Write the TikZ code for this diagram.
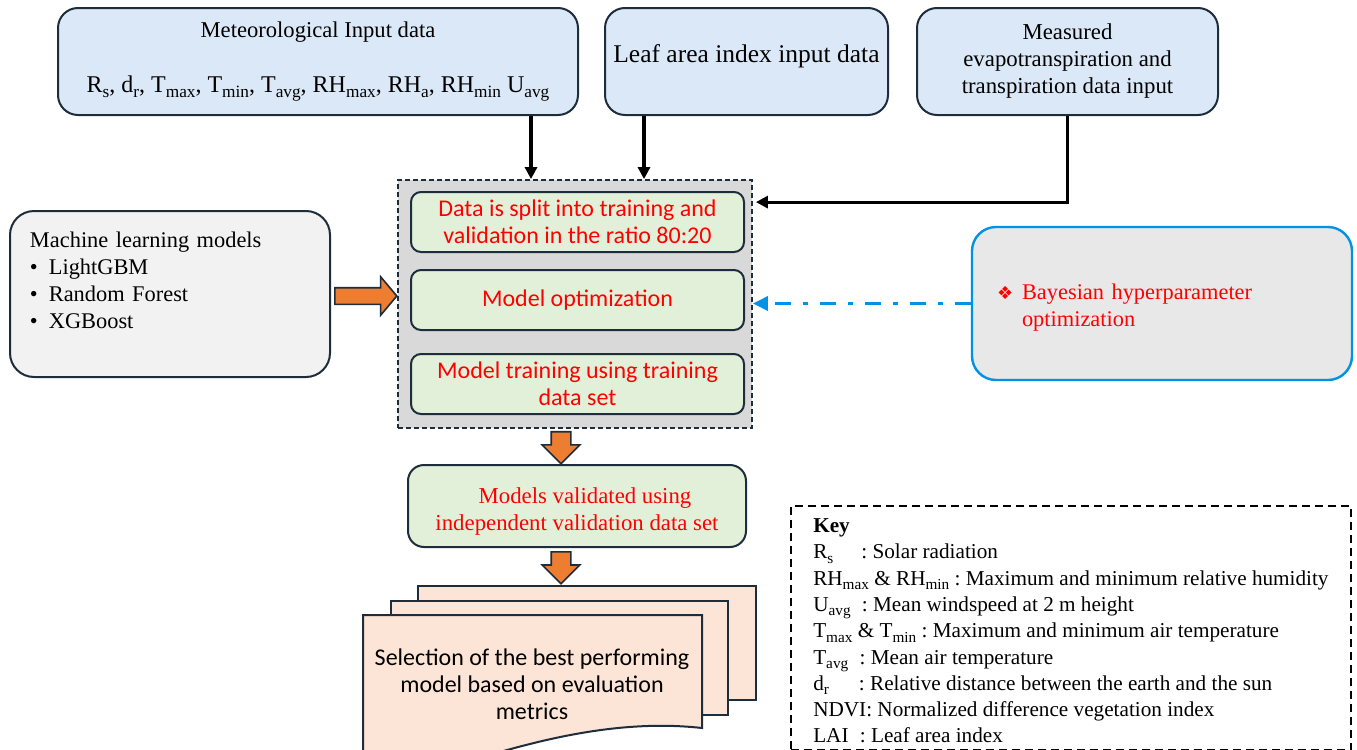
\documentclass[tikz,border=0pt]{standalone}
\usepackage{fontspec}
\setmainfont{Liberation Serif}
\newfontfamily\calfont{Carlito}
\newfontfamily\symfont{DejaVu Sans}
\usepackage{graphicx}
\usetikzlibrary{shapes.arrows, arrows.meta, positioning}

\definecolor{edgedark}{RGB}{30,45,60}
\definecolor{skyfill}{RGB}{218,232,247}
\definecolor{greenfill}{RGB}{226,240,217}
\definecolor{greyfill}{RGB}{217,217,217}
\definecolor{mlfill}{RGB}{242,242,242}
\definecolor{bayesfill}{RGB}{232,232,232}
\definecolor{bluedash}{RGB}{0,146,228}
\definecolor{orangefill}{RGB}{237,125,49}
\definecolor{paperfill}{RGB}{252,228,214}

\newcommand{\lsub}[1]{\raisebox{-0.45ex}{\scalebox{0.72}{#1}}}

\begin{document}
\frenchspacing
\begin{tikzpicture}[x=0.5pt, y=-0.5pt,
    inbox/.style={rectangle, draw=edgedark, fill=skyfill, rounded corners=10pt, line width=1pt, minimum height=53.5pt, align=center, font=\fontsize{11.3}{13.5}\selectfont},
    stage/.style={rectangle, draw=edgedark, fill=greenfill, rounded corners=5pt, line width=1pt, minimum width=166.5pt, minimum height=30pt, align=center, text=red, font=\calfont\fontsize{12}{13.5}\selectfont},
    barrow/.style={single arrow, draw=edgedark, fill=orangefill, line width=0.8pt, inner sep=4.5pt, single arrow head extend=4.5pt, minimum height=16pt},
    docpage/.style={draw=edgedark, fill=paperfill, line width=1pt},
    arrow/.style={-{Triangle[length=6pt,width=6pt]}, line width=1.6pt}
]
\useasboundingbox (0,0) rectangle (1357,750);
\clip (0,0) rectangle (1357,750);

% Inputs
\node[inbox, minimum width=260pt] (met) at (318,61.5) {Meteorological Input data\\[14pt]
    {\fontsize{12}{13.5}\selectfont R\lsub{s}, d\lsub{r}, T\lsub{max}, T\lsub{min}, T\lsub{avg}, RH\lsub{max}, RH\lsub{a}, RH\lsub{min} U\lsub{avg}}};
\node[inbox, minimum width=141.5pt, font=\fontsize{12.75}{14}\selectfont] (leaf) at (746.5,61.5) {Leaf area index input data\\[-6pt]\mbox{}};
\node[inbox, minimum width=150.5pt, font=\fontsize{11.4}{13.5}\selectfont] (meas) at (1067.5,61.5) {Measured\\evapotranspiration and\\transpiration data input};

% Core block
\node[rectangle, draw=edgedark, dash pattern=on 2.5pt off 1.5pt, line width=0.9pt, fill=greyfill, minimum width=177pt, minimum height=124pt] (cont) at (575,304) {};
\node[stage] (split) at (577.5,222) {Data is split into training and\\validation in the ratio 80:20};
\node[stage, below=8pt of split] (optim) {Model optimization};
\node[stage, below=11pt of optim] (train) {Model training using training\\data set};

% Side boxes
\node[rectangle, draw=edgedark, fill=mlfill, rounded corners=12pt, line width=1pt, minimum width=160pt, minimum height=83pt, inner xsep=10pt, text width=140pt, align=left, font=\fontsize{11.2}{13.5}\selectfont] (ml) at (170,294) {Machine learning models\\
    \textbullet\hspace{5.5pt}LightGBM\\
    \textbullet\hspace{5.5pt}Random Forest\\
    \textbullet\hspace{5.5pt}XGBoost\\ \mbox{}};
\node[rectangle, draw=bluedash, fill=bayesfill, rounded corners=12pt, line width=1.2pt, minimum height=76.5pt, inner xsep=12.5pt, text width=165pt, align=left, text=red, font=\fontsize{11.2}{13.5}\selectfont] (bayes) at (1162,303.5) {\rule{0pt}{12pt}\makebox[12.5pt][l]{\symfont\fontsize{9}{9}\selectfont ❖}Bayesian hyperparameter\\
    \hspace*{12.5pt}optimization};

% Validation and selection
\node[stage, minimum width=169pt, minimum height=41pt, rounded corners=8pt, font=\fontsize{11.4}{13.5}\selectfont] (valid) at (577,506) {\rule{0pt}{13pt}\hspace*{8pt}Models validated using\\independent validation data set};
\draw[docpage] (418,586) rectangle (756,700);
\draw[docpage] (391,601) rectangle (728,715);
\draw[docpage] (363,615) -- (702,615) -- (702,728) .. controls (630,720) and (560,735) .. (500,752) .. controls (450,768) and (400,772) .. (363,768) -- cycle;
\node[align=center, font=\calfont\fontsize{12}{13.5}\selectfont] (select) at (532,684) {Selection of the best performing\\model based on evaluation\\metrics};

% Key
\node[draw, dash pattern=on 4pt off 2.5pt, line width=0.9pt, anchor=north west, minimum width=280pt, minimum height=122pt, inner xsep=7.5pt, align=left, font=\fontsize{10.6}{13.15}\selectfont] (key) at (790,505) {\rule{0pt}{10pt}\textbf{Key}\\
    R\lsub{s}\hspace{14pt}: Solar radiation\\
    RH\lsub{max} \& RH\lsub{min} : Maximum and minimum relative humidity\\
    U\lsub{avg}\hspace{3pt} : Mean windspeed at 2 m height\\
    T\lsub{max} \& T\lsub{min} : Maximum and minimum air temperature\\
    T\lsub{avg}\hspace{3pt} : Mean air temperature\\
    d\lsub{r}\hspace{15pt}: Relative distance between the earth and the sun\\
    NDVI: Normalized difference vegetation index\\
    LAI\hspace{3pt} : Leaf area index};

% Connectors
\coordinate (metout) at ([xshift=-24pt]met.south east);
\coordinate (leafout) at ([xshift=20pt]leaf.south west);
\coordinate (mjoin) at ([yshift=-11.5pt]cont.north east);
\draw[arrow] (metout) -- (metout |- cont.north);
\draw[arrow] (leafout) -- (leafout |- cont.north);
\draw[arrow] (meas.south) |- ([xshift=1.5pt]mjoin);
\draw[-{Triangle[length=7.5pt,width=7pt]}, bluedash, line width=1.6pt, dash pattern=on 8pt off 6pt on 2.5pt off 6pt] (bayes.west) -- (bayes.west -| cont.east);
\node[barrow, minimum height=31pt, inner sep=3.75pt, single arrow head extend=5.5pt, single arrow tip angle=100, anchor=tail] (mlarrow) at ([xshift=1.5pt,yshift=-1pt]ml.east) {};
\node[barrow, shape border rotate=270, anchor=tail] (down1) at ([xshift=-7pt,yshift=-1pt]cont.south) {};
\node[barrow, shape border rotate=270, anchor=tail] (down2) at ([xshift=-8pt,yshift=-1.5pt]valid.south) {};
\end{tikzpicture}
\end{document}
